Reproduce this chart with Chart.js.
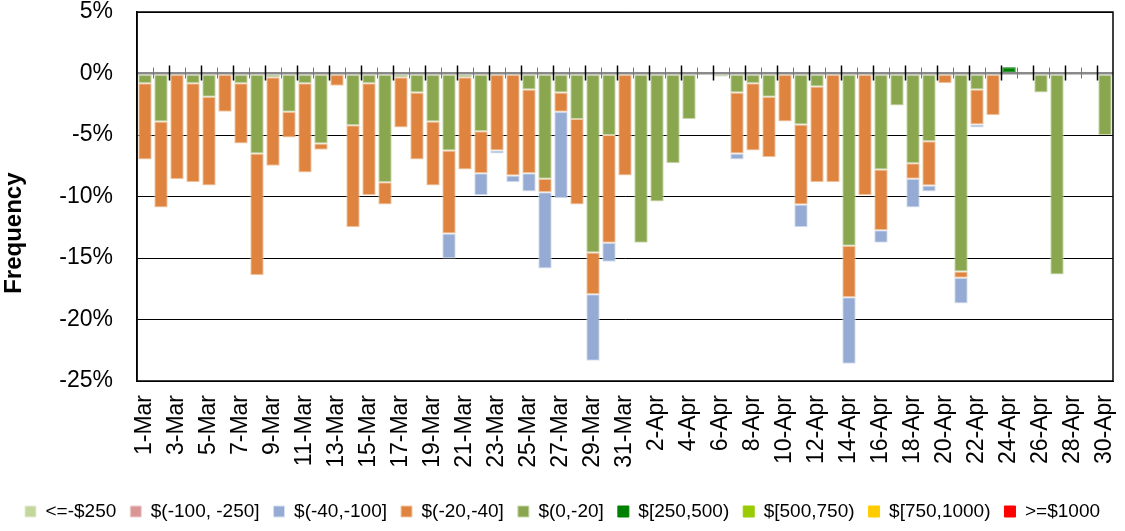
<!DOCTYPE html>
<html>
<head>
<meta charset="utf-8">
<script src="https://cdn.jsdelivr.net/npm/chart.js"></script>
<style>
  html, body { margin: 0; padding: 0; background: #fff; }
  .area_body { width: 1125px; height: 531px; position: relative; }
</style>
</head>
<body>
<div class="area_body">
  <canvas id="myChart" width="1125" height="531"></canvas>
</div>
<script>
  // カテゴリ（日付）
  var days = [
    '1-Mar','2-Mar','3-Mar','4-Mar','5-Mar','6-Mar','7-Mar','8-Mar','9-Mar','10-Mar',
    '11-Mar','12-Mar','13-Mar','14-Mar','15-Mar','16-Mar','17-Mar','18-Mar','19-Mar','20-Mar',
    '21-Mar','22-Mar','23-Mar','24-Mar','25-Mar','26-Mar','27-Mar','28-Mar','29-Mar','30-Mar','31-Mar',
    '1-Apr','2-Apr','3-Apr','4-Apr','5-Apr','6-Apr','7-Apr','8-Apr','9-Apr','10-Apr',
    '11-Apr','12-Apr','13-Apr','14-Apr','15-Apr','16-Apr','17-Apr','18-Apr','19-Apr','20-Apr',
    '21-Apr','22-Apr','23-Apr','24-Apr','25-Apr','26-Apr','27-Apr','28-Apr','29-Apr','30-Apr'
  ];

  // 各系列（%）
  var loss0to20 = [
    -0.8,-3.9,0,-0.8,-1.9,0,-0.8,-6.5,-0.3,-3.1,
    -0.8,-5.7,0,-4.2,-0.8,-8.85,-0.3,-1.55,-3.9,-6.25,
    -0.3,-4.7,0,0,-1.3,-8.55,-1.55,-3.7,-14.55,-5.0,0,
    -13.75,-10.4,-7.3,-3.7,0,-0.25,-1.55,-0.8,-1.9,0,
    -4.15,-1.05,0,-14.0,0,-7.8,-2.6,-7.3,-5.5,0,
    -16.1,-1.3,0,0,0,-1.55,-16.35,0,0,-5.0
  ];
  var loss20to40 = [
    -6.2,-7.0,-8.6,-8.05,-7.2,-3.1,-4.9,-9.9,-7.2,-2.1,
    -7.25,-0.5,-1.0,-8.3,-9.1,-1.8,-4.1,-5.45,-5.2,-6.75,
    -7.5,-3.4,-6.25,-8.3,-6.8,-1.1,-1.55,-6.95,-3.4,-8.75,-8.3,
    0,0,0,0,0,0,-4.95,-5.45,-4.9,-3.9,
    -6.5,-7.8,-8.85,-4.2,-9.9,-4.95,0,-1.25,-3.6,-0.8,
    -0.5,-2.85,-3.4,0,0,0,0,0,0,0
  ];
  var loss40to100 = [
    0,0,0,0,0,0,0,0,0,0,
    0,0,0,0,0,0,0,0,0,-2.05,
    0,-1.8,-0.25,-0.55,-1.5,-6.2,-7.05,0,-5.4,-1.55,0,
    0,0,0,0,0,0,-0.5,0,0,0,
    -1.85,0,0,-5.4,0,-1.0,0,-2.35,-0.5,0,
    -2.1,-0.25,0,0,0,0,0,0,0,0
  ];
  var loss100to250 = new Array(61).fill(0);
  var lossOver250 = new Array(61).fill(0);
  var gain250to500 = [
    0,0,0,0,0,0,0,0,0,0,
    0,0,0,0,0,0,0,0,0,0,
    0,0,0,0,0,0,0,0,0,0,0,
    0,0,0,0,0,0,0,0,0,0,
    0,0,0,0,0,0,0,0,0,0,
    0,0,0,0.5,0,0,0,0,0,0
  ];
  var gain500to750 = new Array(61).fill(0);
  var gain750to1000 = new Array(61).fill(0);
  var gainOver1000 = new Array(61).fill(0);

  var yTicks = [5, 0, -5, -10, -15, -20, -25];

  // 凡例の並び順
  var legendOrder = ['<=-$250', '$(-100, -250]', '$(-40,-100]', '$(-20,-40]', '$(0,-20]',
                     '$[250,500)', '$[500,750)', '$[750,1000)', '>=$1000'];

  function series(label, data, color, edge) {
    return {
      label: label,
      data: data,
      backgroundColor: color,
      borderColor: edge,
      borderWidth: 1,
      borderSkipped: false,
      barPercentage: 0.84,
      categoryPercentage: 1.0,
      stack: 's'
    };
  }

  // x軸の目盛り線を0%の位置に描く
  var zeroTicks = {
    id: 'zeroTicks',
    afterDatasetsDraw: function (chart) {
      var c = chart.ctx, x = chart.scales.x, y = chart.scales.y, a = chart.chartArea;
      var y0 = y.getPixelForValue(0);
      c.save();
      for (var i = 1; i < days.length; i++) {
        var px = Math.round((x.getPixelForValue(i - 1) + x.getPixelForValue(i)) / 2) + 0.5;
        var major = i % 2 === 0;
        c.strokeStyle = major ? '#000' : '#777';
        c.lineWidth = major ? 1.5 : 1;
        c.beginPath();
        c.moveTo(px, y0 - (major ? 8 : 6));
        c.lineTo(px, y0 + (major ? 7 : 5));
        c.stroke();
      }
      c.strokeStyle = '#000';
      c.lineWidth = 1.5;
      c.strokeRect(a.left, a.top, a.right - a.left, a.bottom - a.top);
      c.restore();
    }
  };

  var ctx = document.getElementById('myChart').getContext('2d');
  var myChart = new Chart(ctx, {
    type: 'bar',
    data: {
      labels: days,
      datasets: [
        series('$(0,-20]', loss0to20, '#8AA64E', '#C9D8AE'),
        series('$(-20,-40]', loss20to40, '#DE843F', '#F2C9A6'),
        series('$(-40,-100]', loss40to100, '#95ABD3', '#D6E0F0'),
        series('$(-100, -250]', loss100to250, '#D99694', '#EFD0CF'),
        series('<=-$250', lossOver250, '#C3D69B', '#E6EED6'),
        series('$[250,500)', gain250to500, '#008000', '#008000'),
        series('$[500,750)', gain500to750, '#99CC00', '#99CC00'),
        series('$[750,1000)', gain750to1000, '#FFCC00', '#FFCC00'),
        series('>=$1000', gainOver1000, '#FF0000', '#FF0000')
      ]
    },
    options: {
      responsive: false,
      animation: false,
      layout: { padding: 0 },
      scales: {
        x: {
          stacked: true,
          grid: { display: false },
          border: { display: true, color: '#000', width: 1 },
          ticks: {
            autoSkip: false,
            maxRotation: 90,
            minRotation: 90,
            padding: 6,
            color: '#000',
            font: { family: 'Liberation Sans, Arial', size: 23 },
            callback: function (v, i) { return i % 2 === 0 ? days[i] : ''; }
          },
          afterFit: function (scale) {
            scale.height = 107;
            scale.paddingLeft = 0;
            scale.paddingRight = 12;
          }
        },
        y: {
          stacked: true,
          min: -25,
          max: 5,
          afterBuildTicks: function (scale) {
            scale.ticks = yTicks.map(function (v) { return { value: v }; });
          },
          grid: {
            drawTicks: false,
            color: function (c) { return c.tick.value === 0 ? '#8a8a8a' : '#000'; },
            lineWidth: function (c) { return c.tick.value === 0 ? 2.5 : 1; }
          },
          border: { display: true, color: '#000', width: 1.5 },
          ticks: {
            padding: 24,
            color: '#000',
            font: { family: 'Liberation Sans, Arial', size: 23 },
            callback: function (v) { return v + '%'; }
          },
          title: {
            display: true,
            text: 'Frequency           ',
            color: '#000',
            padding: { top: 0, bottom: 4 },
            font: { family: 'Liberation Sans, Arial', size: 24, weight: 'bold' }
          },
          afterFit: function (scale) {
            scale.width = 137;
            scale.paddingTop = 12;
            scale.paddingBottom = 0;
          }
        }
      },
      plugins: {
        legend: {
          position: 'bottom',
          padding: { top: 15, bottom: 5 },
          labels: {
            boxWidth: 11,
            boxHeight: 11,
            padding: 14,
            color: '#000',
            font: { family: 'Liberation Sans, Arial', size: 19 },
            sort: function (a, b) {
              return legendOrder.indexOf(a.text) - legendOrder.indexOf(b.text);
            }
          }
        },
        tooltip: { enabled: false }
      }
    },
    plugins: [zeroTicks]
  });
</script>
</body>
</html>
